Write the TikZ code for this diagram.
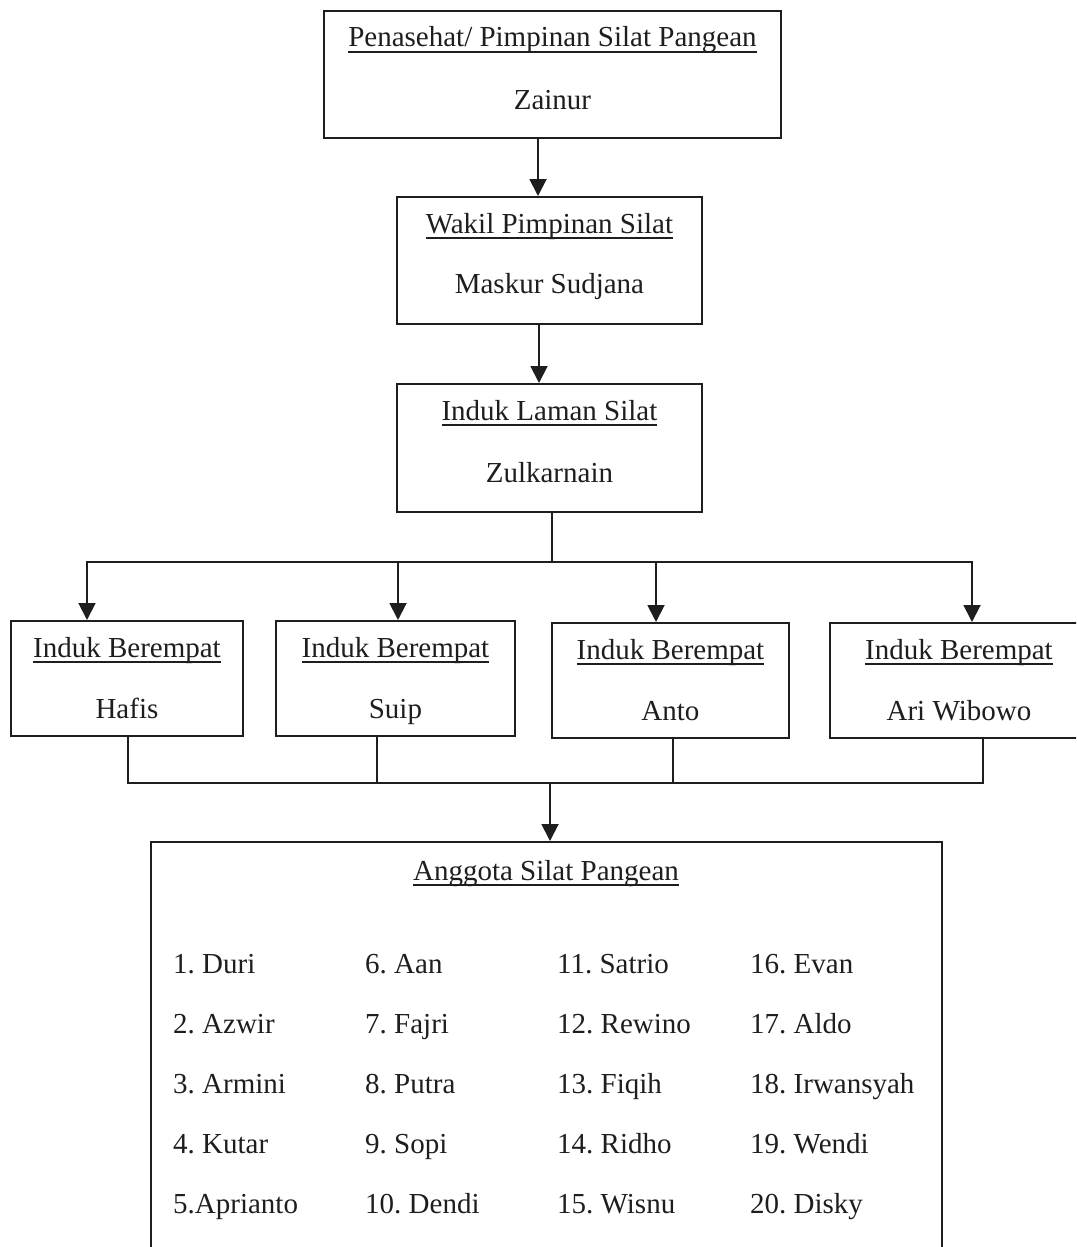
\documentclass[tikz,border=0pt]{standalone}
\usepackage{fontspec}
\setmainfont{Liberation Serif}
\usetikzlibrary{arrows.meta,calc}
\newsavebox{\ulbox}
\newcommand{\ulx}[1]{\sbox{\ulbox}{#1}\rlap{\rule[-5.8pt]{\wd\ulbox}{1.8pt}}\usebox{\ulbox}}
\definecolor{ink}{HTML}{1E1E1E}
\frenchspacing
\begin{document}
\begin{tikzpicture}[x=1pt,y=-1pt,
  box/.style={draw=ink, line width=1.9pt, inner sep=0pt, anchor=north west},
  txt/.style={inner sep=0pt, anchor=base, text=ink, font=\fontsize{29}{35}\selectfont\frenchspacing},
  ltxt/.style={txt, anchor=base west},
  arr/.style={draw=ink, line width=1.9pt, -{Triangle[length=17pt,width=17pt]}},
  ln/.style={draw=ink, line width=1.7pt},
]
\useasboundingbox (0,0) rectangle (1076,1247);
\clip (0,0) rectangle (1076,1247);
\fill[white] (0,0) rectangle (1076,1247);

% boxes
\node[box, minimum width=457pt, minimum height=127pt] (b1) at (323,10) {};
\node[box, minimum width=305pt, minimum height=127pt] (b2) at (396,196) {};
\node[box, minimum width=305pt, minimum height=128pt] (b3) at (396,383) {};
\node[box, minimum width=232pt, minimum height=115pt] (bA) at (10,620) {};
\node[box, minimum width=239pt, minimum height=115pt] (bB) at (275,620) {};
\node[box, minimum width=237pt, minimum height=115pt] (bC) at (551,622) {};
\node[box, minimum width=258pt, minimum height=115pt] (bD) at (829,622) {};
\node[box, minimum width=791pt, minimum height=430pt] (b5) at (150,841) {};

% box texts
\node[txt] (t1a) at ($(b1.north)+(0,37)$) {\ulx{Penasehat/ Pimpinan Silat Pangean}};
\node[txt] (t1b) at ($(b1.north)+(0,99)$) {Zainur};
\node[txt] (t2a) at ($(b2.north)+(0,37)$) {\ulx{Wakil Pimpinan Silat}};
\node[txt] (t2b) at ($(b2.north)+(0,97)$) {Maskur Sudjana};
\node[txt] (t3a) at ($(b3.north)+(0,37)$) {\ulx{Induk Laman Silat}};
\node[txt] (t3b) at ($(b3.north)+(0,99)$) {Zulkarnain};
\node[txt] (tAa) at ($(bA.north)+(0,37)$) {\ulx{Induk Berempat}};
\node[txt] (tAb) at ($(bA.north)+(0,98)$) {Hafis};
\node[txt] (tBa) at ($(bB.north)+(0,37)$) {\ulx{Induk Berempat}};
\node[txt] (tBb) at ($(bB.north)+(0,98)$) {Suip};
\node[txt] (tCa) at ($(bC.north)+(0,37)$) {\ulx{Induk Berempat}};
\node[txt] (tCb) at ($(bC.north)+(0,98)$) {Anto};
\node[txt] (tDa) at ($(bD.north)+(0,37)$) {\ulx{Induk Berempat}};
\node[txt] (tDb) at ($(bD.north)+(0,98)$) {Ari Wibowo};
\node[txt] (t5) at (546,880) {\ulx{Anggota Silat Pangean}};

% members
\foreach \nm [count=\i from 0] in {1. Duri,2. Azwir,3. Armini,4. Kutar,5.Aprianto}
  \node[ltxt] (m1\i) at (173,973+60*\i) {\nm};
\foreach \nm [count=\i from 0] in {6. Aan,7. Fajri,8. Putra,9. Sopi,10. Dendi}
  \node[ltxt] (m2\i) at (365,973+60*\i) {\nm};
\foreach \nm [count=\i from 0] in {11. Satrio,12. Rewino,13. Fiqih,14. Ridho,15. Wisnu}
  \node[ltxt] (m3\i) at (557,973+60*\i) {\nm};
\foreach \nm [count=\i from 0] in {16. Evan,17. Aldo,18. Irwansyah,19. Wendi,20. Disky}
  \node[ltxt] (m4\i) at (750,973+60*\i) {\nm};

% connectors
\coordinate (x1) at (538,0);
\coordinate (x2) at (539,0);
\coordinate (jt) at (552,562);
\coordinate (xa) at (87,0);
\coordinate (xb) at (398,0);
\coordinate (xc) at (656,0);
\coordinate (xd) at (972,0);
\coordinate (jb) at (550,783);
\coordinate (ya) at (128,0);
\coordinate (yb) at (377,0);
\coordinate (yc) at (673,0);
\coordinate (yd) at (983,0);

\draw[arr] (b1.south -| x1) -- (b2.north -| x1);
\draw[arr] (b2.south -| x2) -- (b3.north -| x2);
\draw[ln] (b3.south -| jt) -- (jt);
\draw[arr] (jt) -| (bA.north -| xa);
\draw[arr] (jt) -| (bB.north -| xb);
\draw[arr] (jt) -| (bC.north -| xc);
\draw[arr] (jt) -| (bD.north -| xd);
\draw[ln] (bA.south -| ya) |- (jb);
\draw[ln] (bB.south -| yb) |- (jb);
\draw[ln] (bC.south -| yc) |- (jb);
\draw[ln] (bD.south -| yd) |- (jb);
\draw[arr] (jb) -- (b5.north -| jb);
\end{tikzpicture}
\end{document}
